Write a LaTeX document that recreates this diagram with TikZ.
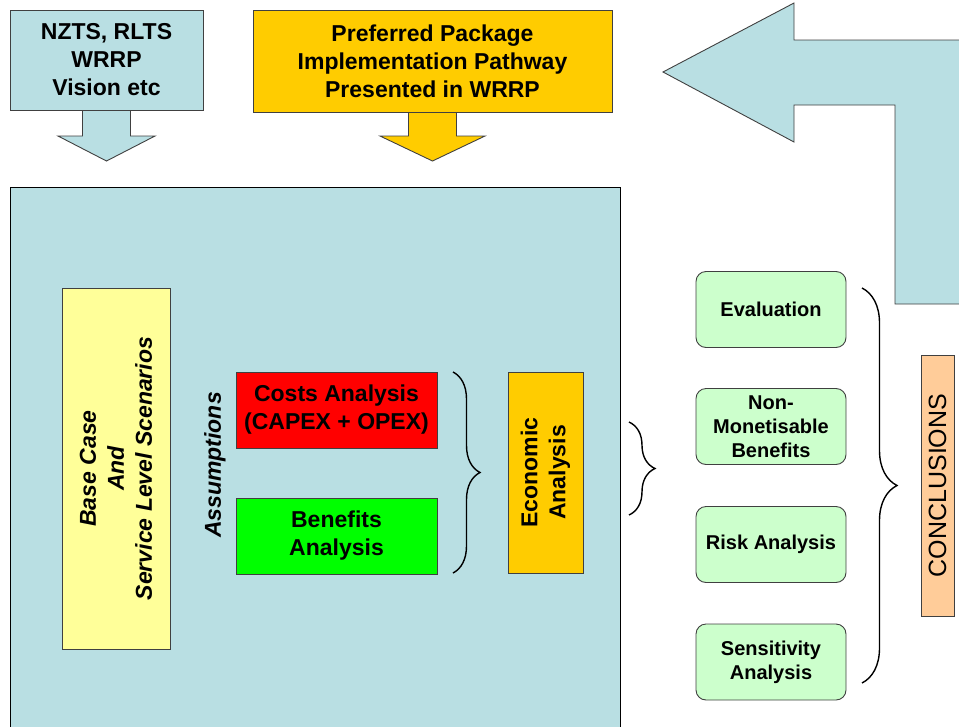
\documentclass[tikz,border=0pt]{standalone}
\usepackage{fontspec}
\setmainfont{Liberation Sans}
\usetikzlibrary{decorations.pathreplacing}
\definecolor{paleblue}{RGB}{185,223,227}
\definecolor{gold}{RGB}{255,204,0}
\definecolor{paleyellow}{RGB}{255,255,153}
\definecolor{palegreen}{RGB}{204,255,204}
\definecolor{peach}{RGB}{255,204,153}
\begin{document}
\begin{tikzpicture}[x=1pt,y=-1pt,
    box/.style={draw=black!75, line width=0.9pt, align=center, inner sep=0pt,
      font=\fontsize{23}{28}\selectfont\bfseries},
    toolbox/.style={box, rounded corners=10pt, fill=palegreen, minimum width=150, minimum height=76,
      font=\fontsize{20}{24}\selectfont\bfseries},
    blockarrow/.style={draw=black!75, line width=0.9pt},
    curly/.style={decorate, line width=1.4pt}]
    \useasboundingbox (0,0) rectangle (959,726);
    \clip (0,0) rectangle (959,726);

    % big feedback arrow and the frame
    \draw[blockarrow, fill=paleblue] (975,40) -- (794,40) -- (794,3) -- (663,72) -- (794,142) -- (794,105) -- (895,105) -- (895,304) -- (975,304);
    \draw[line width=1pt, fill=paleblue] (10,187) rectangle (620,745);

    % inputs at the top
    \draw[blockarrow, fill=paleblue] (82.5,100) -- (82.5,136) -- (58,136) -- (106.5,161) -- (155,136) -- (130.5,136) -- (130.5,100);
    \draw[blockarrow, fill=gold] (408.5,100) -- (408.5,136) -- (380,136) -- (432.5,161) -- (485,136) -- (456.5,136) -- (456.5,100);
    \node[box, fill=paleblue, minimum width=193, minimum height=100] (nzts) at (106.5,60) {NZTS, RLTS\\WRRP\\Vision etc};
    \node[box, fill=gold, minimum width=359, minimum height=102] (pref) at (432.5,61) {Preferred Package\\Implementation Pathway\\Presented in WRRP};

    % analysis inside the frame
    \node[box, fill=paleyellow, rotate=90, minimum width=361, minimum height=108, font=\fontsize{23}{28}\selectfont\bfseries\itshape] (scen) at (116,468.5) {Base Case\\And\\Service Level Scenarios};
    \node[rotate=90, font=\fontsize{23}{28}\selectfont\bfseries\itshape] (assum) at (215,465) {Assumptions};
    \node[box, fill=red, minimum width=201, minimum height=76] (costs) at (336.5,410) {Costs Analysis\\(CAPEX + OPEX)};
    \node[box, fill=green, minimum width=201, minimum height=76] (bens) at (336.5,536) {Benefits\\Analysis};
    \node[box, fill=gold, rotate=90, minimum width=201, minimum height=75] (econ) at (545.5,472.5) {Economic\\Analysis};

    % supporting analyses
    \node[toolbox] (evalu) at (771,309.5) {Evaluation};
    \node[toolbox] (nonmon) at (771,426.5) {Non-\\Monetisable\\Benefits};
    \node[toolbox] (risk) at (771,544.5) {Risk Analysis};
    \node[toolbox] (sens) at (771,662) {Sensitivity\\Analysis};
    \node[box, fill=peach, rotate=90, minimum width=261, minimum height=33, font=\fontsize{25}{30}\selectfont] (concl) at (937.5,485.5) {CONCLUSIONS};

    % braces
    \coordinate (b1top) at (453,372); \coordinate (b1bot) at (453,573);
    \coordinate (b2top) at (629,422); \coordinate (b2bot) at (629,515);
    \coordinate (b3top) at (862,288); \coordinate (b3bot) at (862,683);
    \draw[curly, decoration={brace, amplitude=27}] (b1top) -- (b1bot);
    \draw[curly, decoration={brace, amplitude=26}] (b2top) -- (b2bot);
    \draw[curly, decoration={brace, amplitude=35}] (b3top) -- (b3bot);
\end{tikzpicture}
\end{document}
